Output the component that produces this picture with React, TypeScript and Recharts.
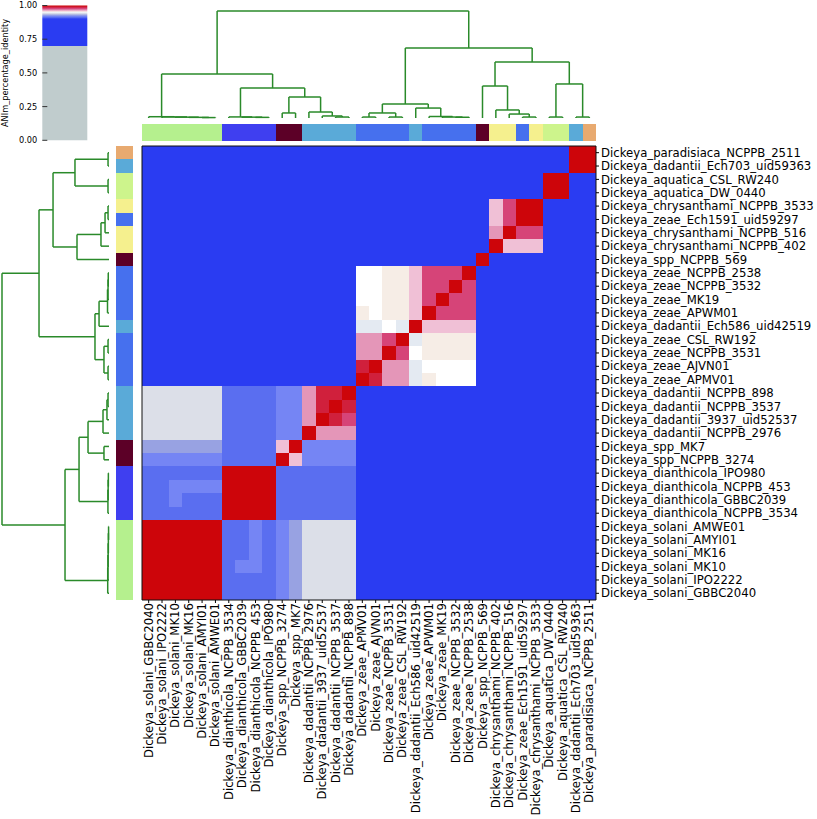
import React from 'react';
import { ComposedChart, XAxis, YAxis, ReferenceArea, ReferenceLine } from 'recharts';

// leaves in dendrogram order (left -> right on x, bottom -> top on y)
const LEAF_LABELS = [
  'Dickeya_solani_GBBC2040', 'Dickeya_solani_IPO2222', 'Dickeya_solani_MK10', 'Dickeya_solani_MK16',
  'Dickeya_solani_AMYI01', 'Dickeya_solani_AMWE01',
  'Dickeya_dianthicola_NCPPB_3534', 'Dickeya_dianthicola_GBBC2039', 'Dickeya_dianthicola_NCPPB_453',
  'Dickeya_dianthicola_IPO980',
  'Dickeya_spp_NCPPB_3274', 'Dickeya_spp_MK7',
  'Dickeya_dadantii_NCPPB_2976', 'Dickeya_dadantii_3937_uid52537', 'Dickeya_dadantii_NCPPB_3537',
  'Dickeya_dadantii_NCPPB_898',
  'Dickeya_zeae_APMV01', 'Dickeya_zeae_AJVN01', 'Dickeya_zeae_NCPPB_3531', 'Dickeya_zeae_CSL_RW192',
  'Dickeya_dadantii_Ech586_uid42519',
  'Dickeya_zeae_APWM01', 'Dickeya_zeae_MK19', 'Dickeya_zeae_NCPPB_3532', 'Dickeya_zeae_NCPPB_2538',
  'Dickeya_spp_NCPPB_569',
  'Dickeya_chrysanthami_NCPPB_402', 'Dickeya_chrysanthami_NCPPB_516', 'Dickeya_zeae_Ech1591_uid59297',
  'Dickeya_chrysanthami_NCPPB_3533',
  'Dickeya_aquatica_DW_0440', 'Dickeya_aquatica_CSL_RW240',
  'Dickeya_dadantii_Ech703_uid59363', 'Dickeya_paradisiaca_NCPPB_2511',
];

// class strip colours, class = species token of the label
const CLASS_COLORS: Record<string, string> = {
  solani: '#b5f08e',
  dianthicola: '#3f3ff0',
  spp: '#5c0027',
  dadantii: '#5aaad8',
  zeae: '#4670ee',
  chrysanthami: '#f5f08e',
  aquatica: '#cdf48c',
  paradisiaca: '#e8aa70',
};

// approximate ANIm identity for each code used in the matrix below
const ANI_LEVELS: Record<string, number> = {
  '.': 0.85, m: 0.912, l: 0.92, d: 0.928, g: 0.942, b: 0.947, w: 0.95,
  e: 0.953, p: 0.96, k: 0.966, r: 0.978, c: 0.988, R: 0.998,
};

// row i = leaf i, columns grouped: solani(6) dianthicola(4) spp(2) dadantii(4) zeae(4) Ech586 zeae(4) spp569 chrys(4) aquatica(2) paradisiaca(2)
const ANI_CODES = [
  'RRRRRR mmmm ld gggg .... . .... . .... .. ..',
  'RRRRRR mmmm ld gggg .... . .... . .... .. ..',
  'RRRRRR mllm ld gggg .... . .... . .... .. ..',
  'RRRRRR mmlm ld gggg .... . .... . .... .. ..',
  'RRRRRR mmlm ld gggg .... . .... . .... .. ..',
  'RRRRRR mmlm ld gggg .... . .... . .... .. ..',
  'mmmmmm RRRR mm mmmm .... . .... . .... .. ..',
  'mmlmmm RRRR mm mmmm .... . .... . .... .. ..',
  'mmllll RRRR mm mmmm .... . .... . .... .. ..',
  'mmmmmm RRRR mm mmmm .... . .... . .... .. ..',
  'llllll mmmm Rp llll .... . .... . .... .. ..',
  'dddddd mmmm pR llll .... . .... . .... .. ..',
  'gggggg mmmm ll Rkkk .... . .... . .... .. ..',
  'gggggg mmmm ll kRcr .... . .... . .... .. ..',
  'gggggg mmmm ll kcRc .... . .... . .... .. ..',
  'gggggg mmmm ll kccR .... . .... . .... .. ..',
  '...... .... .. .... Rckk b ewww . .... .. ..',
  '...... .... .. .... cRkk b wwww . .... .. ..',
  '...... .... .. .... kkRr w eeee . .... .. ..',
  '...... .... .. .... kkrR b eeee . .... .. ..',
  '...... .... .. .... bbwb R pppp . .... .. ..',
  '...... .... .. .... ewee p Rrrr . .... .. ..',
  '...... .... .. .... wwee p rRrr . .... .. ..',
  '...... .... .. .... wwee p rrRr . .... .. ..',
  '...... .... .. .... wwee p rrrR . .... .. ..',
  '...... .... .. .... .... . .... R .... .. ..',
  '...... .... .. .... .... . .... . Rppp .. ..',
  '...... .... .. .... .... . .... . kRrr .. ..',
  '...... .... .. .... .... . .... . prRR .. ..',
  '...... .... .. .... .... . .... . prRR .. ..',
  '...... .... .. .... .... . .... . .... RR ..',
  '...... .... .. .... .... . .... . .... RR ..',
  '...... .... .. .... .... . .... . .... .. RR',
  '...... .... .. .... .... . .... . .... .. RR',
];

// scipy-style linkage [a, b, distance]; new clusters numbered from 34
const LINKAGE: [number, number, number][] = [
  [4, 5, 0.004], [3, 34, 0.006], [2, 35, 0.008], [1, 36, 0.01], [0, 37, 0.012],
  [8, 9, 0.006], [7, 39, 0.008], [6, 40, 0.01],
  [10, 11, 0.047],
  [14, 15, 0.009], [13, 43, 0.019], [12, 44, 0.056],
  [42, 45, 0.196], [41, 46, 0.28], [38, 47, 0.411],
  [16, 17, 0.009], [18, 19, 0.009], [49, 50, 0.047],
  [23, 24, 0.007], [22, 52, 0.009], [21, 53, 0.014], [20, 54, 0.093],
  [51, 55, 0.131],
  [28, 29, 0.009], [27, 57, 0.037], [26, 58, 0.075], [25, 59, 0.299],
  [30, 31, 0.009], [32, 33, 0.009], [61, 62, 0.318],
  [60, 63, 0.523], [56, 64, 0.654], [48, 65, 1.0],
];

const CBAR_TICKS = [0, 0.25, 0.5, 0.75, 1];

const CMAP_STOPS: [number, string][] = [
  [0.0, '#c0cccd'], [0.7, '#c0cccd'], [0.7, '#2a3cf2'], [0.9, '#2a3cf2'],
  [0.912, '#5a6ef0'], [0.92, '#7585f4'], [0.928, '#98a2e2'], [0.942, '#dcdfe8'],
  [0.947, '#e4eaf2'], [0.95, '#ffffff'], [0.953, '#f6ede6'], [0.96, '#f0c0d6'],
  [0.966, '#e496b8'], [0.978, '#d64478'], [0.988, '#d0203c'], [1.0, '#cc0000'],
];

const LEAF_POS = LEAF_LABELS.map((_, i) => i + 0.5);
const N = LEAF_LABELS.length;
const FONT = 'DejaVu Sans';
const LINK_COLOR = '#2a8a2a';

const hex = (c: string) => [1, 3, 5].map((k) => parseInt(c.slice(k, k + 2), 16));
const mix = (a: string, b: string, t: number) => {
  const A = hex(a);
  const B = hex(b);
  return `rgb(${A.map((v, i) => Math.round(v + (B[i] - v) * t)).join(',')})`;
};
const cmap = (v: number) => {
  for (let k = 1; k < CMAP_STOPS.length; k++) {
    const [v0, c0] = CMAP_STOPS[k - 1];
    const [v1, c1] = CMAP_STOPS[k];
    if (v1 > v0 && v >= v0 && v <= v1) return mix(c0, c1, (v - v0) / (v1 - v0));
  }
  return CMAP_STOPS[CMAP_STOPS.length - 1][1];
};

const cells = ANI_CODES.flatMap((row, i) =>
  row.replace(/ /g, '').split('').map((code, j) => ({ i, j, value: ANI_LEVELS[code] }))
);

// U-shaped links between child positions/heights
const links = (() => {
  const pos = LEAF_POS.slice();
  const hgt = LEAF_POS.map(() => 0);
  const out: { pa: number; ha: number; pb: number; hb: number; h: number }[] = [];
  LINKAGE.forEach(([a, b, h]) => {
    out.push({ pa: pos[a], ha: hgt[a], pb: pos[b], hb: hgt[b], h });
    pos.push((pos[a] + pos[b]) / 2);
    hgt.push(h);
  });
  return out;
})();

// dummy anchor data so every small chart has its domain
const anchor = (xMax: number, yMax: number) => [{ x: 0, y: 0 }, { x: xMax, y: yMax }];

const BottomTick = (props: any) => {
  const { x, y, payload } = props;
  return (
    <text
      x={x}
      y={y}
      transform={`rotate(-90, ${x}, ${y})`}
      textAnchor="end"
      dominantBaseline="central"
      fontSize={11.7}
      fill="#000"
    >
      {LEAF_LABELS[Math.floor(payload.value)]}
    </text>
  );
};

const CbarTick = (props: any) => {
  const { x, y, payload } = props;
  return (
    <g>
      <text x={x} y={y} dy="0.355em" textAnchor="end" fontSize={8.2} fill="#000">
        {payload.value.toFixed(2)}
      </text>
      <line x1={x + 5} x2={x + 10} y1={y} y2={y} stroke="#333" />
    </g>
  );
};

const CbarLabel = (props: any) => {
  const vb = props.viewBox || { y: 5.5, height: 135 };
  const cy = vb.y + vb.height / 2;
  return (
    <text x={8} y={cy} transform={`rotate(-90, 8, ${cy})`} textAnchor="middle" fontSize={8.2} fill="#000">
      ANIm_percentage_identity
    </text>
  );
};

const abs = (left: number, top: number): React.CSSProperties => ({ position: 'absolute', left, top });

const linkProps = { stroke: LINK_COLOR, strokeWidth: 1.5, ifOverflow: 'visible' as const };

export default function App() {
  return (
    <div style={{ position: 'absolute', left: 0, top: 0, width: 817, height: 819, background: '#fff', fontFamily: FONT }}>
      {/* heatmap */}
      <div style={abs(0, 0)}>
        <ComposedChart width={817} height={819} margin={{ top: 146, left: 142, right: 0, bottom: 0 }}>
          <XAxis
            type="number"
            dataKey="x"
            domain={[0, N]}
            ticks={LEAF_POS}
            interval={0}
            height={219}
            tick={<BottomTick />}
            tickSize={3}
            tickMargin={0}
            axisLine={false}
            tickLine={{ stroke: '#000' }}
            allowDataOverflow
          />
          <YAxis
            type="number"
            orientation="right"
            domain={[0, N]}
            ticks={LEAF_POS}
            interval={0}
            width={221}
            tickFormatter={(v: number) => LEAF_LABELS[Math.floor(v)]}
            tick={{ fontSize: 11.7, fill: '#000' }}
            tickSize={3}
            tickMargin={2}
            axisLine={false}
            tickLine={{ stroke: '#000' }}
            allowDataOverflow
          />
          {cells.map((c) => (
            <ReferenceArea
              key={`c-${c.i}-${c.j}`}
              x1={c.j}
              x2={c.j + 1}
              y1={c.i}
              y2={c.i + 1}
              fill={cmap(c.value)}
              fillOpacity={1}
              stroke="none"
              shapeRendering="crispEdges"
            />
          ))}
          <ReferenceArea x1={0} x2={N} y1={0} y2={N} fill="none" stroke="#111" strokeWidth={1} />
        </ComposedChart>
      </div>

      {/* colour bar */}
      <div style={abs(0, 0)}>
        <ComposedChart width={90} height={150} data={anchor(1, 1)} margin={{ top: 5.5, right: 2.7, bottom: 9.7, left: 0 }}>
          <defs>
            <linearGradient id="cbarGrad" x1="0" y1="1" x2="0" y2="0">
              {CMAP_STOPS.map(([v, c], k) => (
                <stop key={k} offset={v} stopColor={c} />
              ))}
            </linearGradient>
          </defs>
          <XAxis type="number" dataKey="x" domain={[0, 1]} allowDataOverflow hide />
          <YAxis
            type="number"
            dataKey="y"
            domain={[0, 1]}
            allowDataOverflow
            ticks={CBAR_TICKS}
            interval={0}
            width={42.3}
            tick={<CbarTick />}
            tickLine={false}
            axisLine={false}
            tickSize={0}
            tickMargin={5}
            label={<CbarLabel />}
          />
          <ReferenceArea x1={0} x2={1} y1={0} y2={1} fill="url(#cbarGrad)" fillOpacity={1} />
        </ComposedChart>
      </div>

      {/* top dendrogram */}
      <div style={abs(142, 0)}>
        <ComposedChart width={454} height={120} data={anchor(N, 1)} margin={{ top: 11, right: 0, bottom: 2, left: 0 }}>
          <XAxis type="number" dataKey="x" domain={[0, N]} allowDataOverflow hide />
          <YAxis type="number" dataKey="y" domain={[0, 1]} allowDataOverflow hide />
          {links.flatMap((l, k) => [
            <ReferenceLine key={`ta${k}`} segment={[{ x: l.pa, y: l.ha }, { x: l.pa, y: l.h }]} {...linkProps} />,
            <ReferenceLine key={`tm${k}`} segment={[{ x: l.pa, y: l.h }, { x: l.pb, y: l.h }]} {...linkProps} />,
            <ReferenceLine key={`tb${k}`} segment={[{ x: l.pb, y: l.h }, { x: l.pb, y: l.hb }]} {...linkProps} />,
          ])}
        </ComposedChart>
      </div>

      {/* left dendrogram */}
      <div style={abs(0, 146)}>
        <ComposedChart width={111} height={454} data={anchor(1, N)} margin={{ top: 0, right: 2, bottom: 0, left: 2 }}>
          <XAxis type="number" dataKey="x" domain={[0, 1]} allowDataOverflow reversed hide />
          <YAxis type="number" dataKey="y" domain={[0, N]} allowDataOverflow hide />
          {links.flatMap((l, k) => [
            <ReferenceLine key={`la${k}`} segment={[{ x: l.ha, y: l.pa }, { x: l.h, y: l.pa }]} {...linkProps} />,
            <ReferenceLine key={`lm${k}`} segment={[{ x: l.h, y: l.pa }, { x: l.h, y: l.pb }]} {...linkProps} />,
            <ReferenceLine key={`lb${k}`} segment={[{ x: l.h, y: l.pb }, { x: l.hb, y: l.pb }]} {...linkProps} />,
          ])}
        </ComposedChart>
      </div>

      {/* top class strip */}
      <div style={abs(142, 124)}>
        <ComposedChart width={454} height={17} data={anchor(N, 1)} margin={{ top: 0, right: 0, bottom: 0, left: 0 }}>
          <XAxis type="number" dataKey="x" domain={[0, N]} allowDataOverflow hide />
          <YAxis type="number" dataKey="y" domain={[0, 1]} allowDataOverflow hide />
          {LEAF_LABELS.map((name, j) => (
            <ReferenceArea key={`s${j}`} x1={j} x2={j + 1} y1={0} y2={1} fill={CLASS_COLORS[name.split('_')[1]]} fillOpacity={1} shapeRendering="crispEdges" />
          ))}
        </ComposedChart>
      </div>

      {/* left class strip */}
      <div style={abs(116, 146)}>
        <ComposedChart width={17} height={454} data={anchor(1, N)} margin={{ top: 0, right: 0, bottom: 0, left: 0 }}>
          <XAxis type="number" dataKey="x" domain={[0, 1]} allowDataOverflow hide />
          <YAxis type="number" dataKey="y" domain={[0, N]} allowDataOverflow hide />
          {LEAF_LABELS.map((name, i) => (
            <ReferenceArea key={`r${i}`} x1={0} x2={1} y1={i} y2={i + 1} fill={CLASS_COLORS[name.split('_')[1]]} fillOpacity={1} shapeRendering="crispEdges" />
          ))}
        </ComposedChart>
      </div>
    </div>
  );
}
